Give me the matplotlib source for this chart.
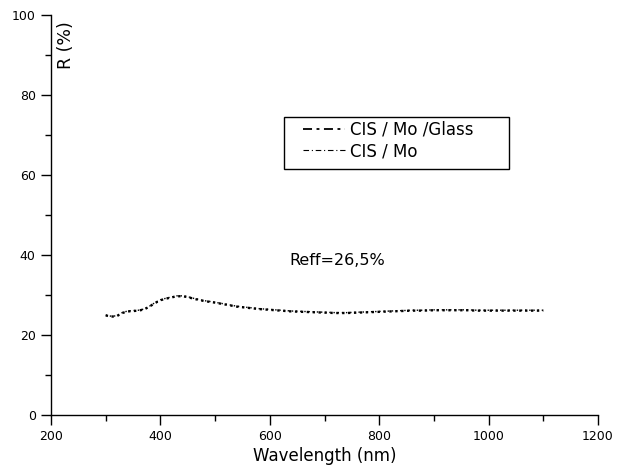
import matplotlib
matplotlib.use("Agg")
import matplotlib.pyplot as plt
from matplotlib.lines import Line2D
from matplotlib.patches import Rectangle
from matplotlib.ticker import MultipleLocator

wavelength = [300, 310, 320, 330, 340, 350, 360, 370, 380, 390, 400, 410, 420, 430,
              440, 450, 460, 470, 480, 500, 520, 540, 560, 580, 600, 620, 640, 660,
              680, 700, 720, 740, 760, 780, 800, 820, 840, 860, 880, 900, 920, 940,
              960, 980, 1000, 1020, 1040, 1060, 1080, 1100]
r_glass = [24.8, 24.5, 24.6, 25.4, 25.8, 25.9, 26.0, 26.3, 27.0, 27.9, 28.6, 29.0, 29.3, 29.6,
           29.6, 29.4, 29.0, 28.7, 28.4, 28.0, 27.5, 27.0, 26.7, 26.4, 26.2, 26.0, 25.8, 25.7,
           25.6, 25.5, 25.4, 25.4, 25.5, 25.6, 25.7, 25.8, 25.9, 26.0, 26.0, 26.1, 26.1, 26.1,
           26.1, 26.0, 26.0, 26.0, 26.0, 26.0, 26.0, 26.0]
r_mo = [24.9, 24.6, 24.7, 25.5, 25.9, 26.0, 26.1, 26.4, 27.1, 28.0, 28.7, 29.1, 29.4, 29.7,
        29.7, 29.5, 29.1, 28.8, 28.5, 28.1, 27.6, 27.1, 26.8, 26.5, 26.3, 26.1, 25.9, 25.8,
        25.7, 25.6, 25.5, 25.5, 25.6, 25.7, 25.8, 25.9, 26.0, 26.1, 26.1, 26.2, 26.2, 26.2,
        26.2, 26.1, 26.1, 26.1, 26.1, 26.1, 26.1, 26.1]
labels = ["CIS / Mo /Glass", "CIS / Mo"]

plt.rcParams['font.family'] = ['DejaVu Sans']

W, H = 620, 466
fig = plt.figure(figsize=(6.2, 4.66), dpi=100)
ax = fig.add_axes([51 / W, 1 - 414.5 / H, (598 - 51) / W, (414.5 - 15) / H])

ax.plot(wavelength, r_glass, color='black', linestyle=(0, (1, 1.5)), linewidth=1.7)
ax.plot(wavelength, r_mo, color='black', linestyle=(0, (1, 2)), linewidth=1.0)

ax.set_xlim(200, 1200)
ax.set_ylim(0, 100)
ax.xaxis.set_major_locator(MultipleLocator(200))
ax.xaxis.set_minor_locator(MultipleLocator(100))
ax.yaxis.set_major_locator(MultipleLocator(20))
ax.yaxis.set_minor_locator(MultipleLocator(10))
ax.tick_params(which='major', direction='out', length=7, width=1, labelsize=9, pad=4)
ax.tick_params(which='minor', direction='out', length=4, width=1)
for s in ['top', 'right']:
    ax.spines[s].set_visible(False)
for s in ['left', 'bottom']:
    ax.spines[s].set_linewidth(1.0)

ax.set_xlabel("Wavelength (nm)", fontsize=12, labelpad=3)
ax.text(227, 98.5, "R (%)", rotation=90, ha='center', va='top', fontsize=12.5)
ax.text(635, 38.5, "Reff=26,5%", ha='left', va='center', fontsize=11.5)

# legend frame
fig.patches.append(Rectangle((284 / W, 1 - 169 / H), (509 - 284) / W, (169 - 117) / H,
                             transform=fig.transFigure, facecolor='white',
                             edgecolor='black', linewidth=1.0, zorder=4))
handles = [Line2D([], [], color='black', linestyle=(0, (5, 2.5, 1.6, 2.5)), linewidth=1.3),
           Line2D([], [], color='black', linestyle=(0, (5, 2.5, 1, 2.5)), linewidth=0.8)]
leg = fig.legend(handles, labels, loc='upper left',
                 bbox_to_anchor=(303 / W, 1 - 121 / H), bbox_transform=fig.transFigure,
                 frameon=False, fontsize=12, handlelength=2.5, handletextpad=0.3,
                 borderpad=0, borderaxespad=0, labelspacing=0.2)
leg.set_zorder(5)

fig.savefig("out.png", dpi=100)
